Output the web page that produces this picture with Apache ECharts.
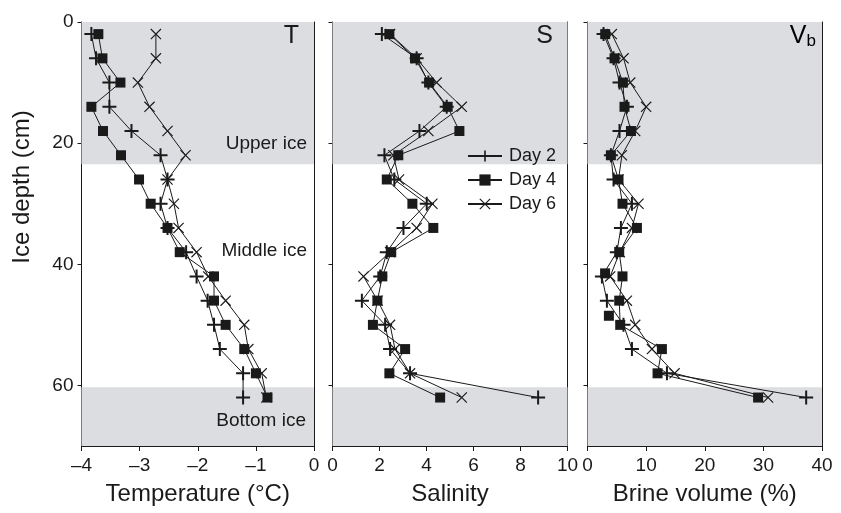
<!DOCTYPE html>
<html>
<head>
<meta charset="utf-8">
<script src="https://cdn.jsdelivr.net/npm/echarts@6/dist/echarts.min.js"></script>
<style>html,body{margin:0;padding:0;background:#fff}#c{width:841px;height:513px}</style>
</head>
<body>
<div id="c"></div>
<script>
// ---- data ----
const depths = [2,6,10,14,18,22,26,30,34,38,42,46,50,54,58,62];
const tDay2 = [-3.83,-3.75,-3.52,-3.52,-3.14,-2.64,-2.52,-2.64,-2.52,-2.2,-2.02,-1.83,-1.72,-1.62,-1.22,-1.22];
const tDay4 = [-3.71,-3.64,-3.33,-3.83,-3.63,-3.32,-3.01,-2.81,-2.52,-2.31,-1.72,-1.72,-1.52,-1.2,-1.0,-0.8];
const tDay6 = [-2.72,-2.72,-3.03,-2.83,-2.52,-2.21,-2.52,-2.41,-2.33,-2.02,-1.82,-1.52,-1.2,-1.13,-0.9,-0.82];
const sDay2 = [2.1,3.58,4.08,4.86,3.7,2.21,2.63,4.01,3.02,2.31,2.03,1.25,2.24,2.45,3.3,8.75];
const sDay4 = [2.42,3.51,4.11,4.9,5.4,2.8,2.31,3.4,4.29,2.5,2.12,1.91,1.72,3.09,2.42,4.58];
const sDay6 = [2.45,3.58,4.43,5.5,4.08,2.59,2.83,4.25,3.58,2.45,1.32,1.92,2.45,2.66,3.3,5.5];
const vDay2 = [2.74,4.44,5.46,6.72,5.46,3.99,4.44,7.58,5.7,5.0,2.46,3.31,6.14,7.58,13.55,37.3];
const vDay4 = [3.02,4.61,6.04,6.31,7.41,3.99,5.29,5.97,8.43,5.41,5.97,5.41,5.58,12.69,11.95,29.1];
const vDay6 = [4.15,6.15,7.29,10.0,8.14,5.87,5.29,8.7,7.58,5.5,3.87,6.72,8.14,10.99,14.85,30.8];
const vDay4ExtraValues = [3.0, 3.65];
const vDay4ExtraDepths = [41.5, 48.5];
const zoneUpper = [0, 23.5];
const zoneBottom = [60.3, 70];
const depthTicks = [0, 20, 40, 60];
const dayNames = ['Day 2', 'Day 4', 'Day 6'];
const axisTitles = ['Temperature (°C)', 'Salinity', 'Brine volume (%)'];
const axisRanges = [[-4, 0, 1], [0, 10, 2], [0, 40, 10]];
const zoneNames = ['Upper ice', 'Middle ice', 'Bottom ice'];

// ---- styling ----
const INK = '#1a1a1a';
const SHADE = '#dcdde0';
const plusPath = 'path://M6,0H8V14H6Z M0,6H14V8H0Z';
const crossPath = 'path://M0,0.9L0.9,0L12,11.1L11.1,12Z M11.1,0L12,0.9L0.9,12L0,11.1Z';
const symbols = [plusPath, 'rect', crossPath];
const symbolSizes = [14, 10, 11];
const gridLefts = [81.5, 332.5, 587.5];
const gridWidths = [232.5, 235, 234.5];
const TOP = 22, HEIGHT = 424;
const numFont = '"Liberation Sans Narrow", "Liberation Sans", Arial, sans-serif';
const txtFont = '"Liberation Sans", Arial, sans-serif';

const panels = [[tDay2, tDay4, tDay6], [sDay2, sDay4, sDay6], [vDay2, vDay4, vDay6]];

const grid = [], xAxis = [], yAxis = [], series = [];
for (let p = 0; p < 3; p++) {
  grid.push({left: gridLefts[p], top: TOP, width: gridWidths[p], height: HEIGHT,
    containLabel: false, outerBoundsMode: 'none', show: false});
  xAxis.push({
    type: 'value', gridIndex: p, position: 'bottom',
    min: axisRanges[p][0], max: axisRanges[p][1], interval: axisRanges[p][2],
    name: axisTitles[p], nameLocation: 'middle', nameGap: 36,
    nameTextStyle: {fontFamily: txtFont, fontSize: 24, color: INK},
    axisLine: {show: true, onZero: false, lineStyle: {color: INK, width: 1}},
    axisTick: {show: true, inside: false, length: 5, lineStyle: {color: INK}},
    axisLabel: {fontFamily: numFont, fontSize: 19, color: INK, margin: 10,
      formatter: v => String(v).replace('-', '\u2013')},
    splitLine: {show: false}
  });
  yAxis.push({
    type: 'value', gridIndex: p, position: 'left', inverse: true,
    min: 0, max: 70, interval: 20,
    axisLine: {show: true, onZero: false, lineStyle: {color: INK, width: 1}},
    axisTick: {show: true, inside: false, length: 4, lineStyle: {color: INK}, customValues: depthTicks},
    axisLabel: {show: p === 0, fontFamily: numFont, fontSize: 19, color: INK, margin: 8, customValues: depthTicks},
    splitLine: {show: false}
  });
}
// frame: top and right decorative axes
for (let p = 0; p < 3; p++) {
  xAxis.push({type: 'value', gridIndex: p, position: 'top', min: axisRanges[p][0], max: axisRanges[p][1],
    axisLine: {show: true, onZero: false, lineStyle: {color: INK, width: 1}},
    axisTick: {show: false}, axisLabel: {show: false}, splitLine: {show: false}});
  yAxis.push({type: 'value', gridIndex: p, position: 'right', inverse: true, min: 0, max: 70,
    axisLine: {show: true, onZero: false, lineStyle: {color: INK, width: 1}},
    axisTick: {show: false}, axisLabel: {show: false}, splitLine: {show: false}});
}

for (let p = 0; p < 3; p++) {
  for (let d = 0; d < 3; d++) {
    const vals = panels[p][d];
    const s = {
      name: dayNames[d], type: 'line', xAxisIndex: p, yAxisIndex: p,
      data: vals.map((v, i) => [v, depths[i]]),
      symbol: symbols[d], symbolSize: symbolSizes[d], showAllSymbol: true,
      lineStyle: {color: INK, width: 1},
      itemStyle: {color: INK, borderWidth: 0, opacity: 1},
      animation: false, silent: true, z: 3 + d
    };
    if (d === 0) {
      s.markArea = {silent: true, itemStyle: {color: SHADE, opacity: 1}, z: 1,
        data: [[{yAxis: zoneUpper[0]}, {yAxis: zoneUpper[1]}], [{yAxis: zoneBottom[0]}, {yAxis: zoneBottom[1]}]]};
    }
    series.push(s);
  }
}
series.push({
  name: 'Day 4', type: 'scatter', xAxisIndex: 2, yAxisIndex: 2,
  data: vDay4ExtraValues.map((v, i) => [v, vDay4ExtraDepths[i]]),
  symbol: 'rect', symbolSize: 10, itemStyle: {color: INK, opacity: 1}, animation: false, silent: true, z: 4
});

const txt = (x, y, text, size, align) => ({type: 'text', x, y, z: 100,
  style: {text, fontFamily: txtFont, fontSize: size, fill: INK, align: align || 'right', verticalAlign: 'middle'}});

const option = {
  backgroundColor: '#fff',
  animation: false,
  grid, xAxis, yAxis, series,
  legend: {
    data: dayNames, orient: 'vertical', left: 462, top: 142,
    itemWidth: 34, itemHeight: 14, itemGap: 6,
    textStyle: {fontFamily: txtFont, fontSize: 18, color: INK, padding: [0, 0, 0, 2]},
    inactiveColor: INK, selectedMode: false
  },
  graphic: [
    {type: 'text', x: 22, y: 187, rotation: Math.PI / 2, z: 100,
      style: {text: 'Ice depth (cm)', fontFamily: txtFont, fontSize: 24, fill: INK, align: 'center', verticalAlign: 'middle'}},
    txt(299, 36, 'T', 25),
    txt(553, 36, 'S', 25),
    {type: 'text', x: 816, y: 36, z: 100, style: {text: '{v|V}{b|b}', align: 'right', verticalAlign: 'middle',
      rich: {v: {fontFamily: txtFont, fontSize: 25, color: INK}, b: {fontFamily: txtFont, fontSize: 17, color: INK, padding: [10, 0, 0, 0]}}}},
    txt(307, 144, zoneNames[0], 19),
    txt(307, 251, zoneNames[1], 19),
    txt(306, 421, zoneNames[2], 19)
  ]
};
const chart = echarts.init(document.getElementById('c'), null, {renderer: 'canvas'});
chart.setOption(option);
</script>
</body>
</html>
